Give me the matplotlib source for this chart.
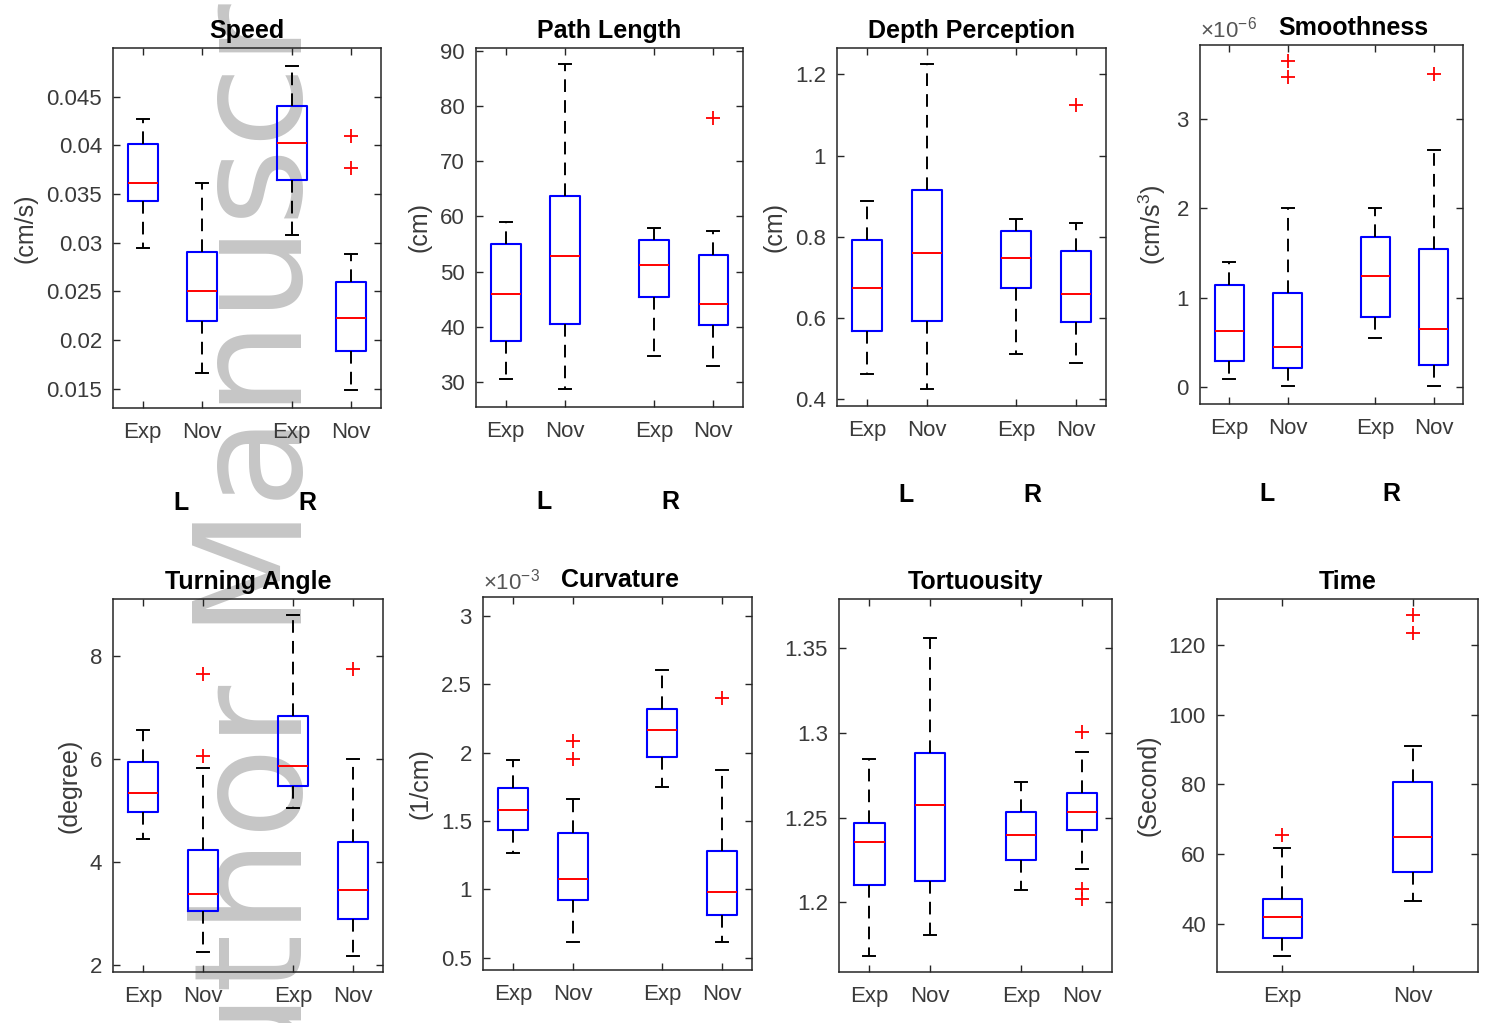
import matplotlib
matplotlib.use("Agg")
import matplotlib.pyplot as plt
import matplotlib.transforms as mtransforms
from matplotlib.ticker import FuncFormatter

plt.rcParams["font.family"] = ["Liberation Sans", "DejaVu Sans"]
plt.rcParams["mathtext.fontset"] = "custom"
plt.rcParams["mathtext.rm"] = "Liberation Sans"
plt.rcParams["mathtext.default"] = "regular"

W, H = 1487, 1023
AX_GREY = "#262626"
TICK_GREY = "#3a3a3a"

GROUPS4 = ["Exp", "Nov", "Exp", "Nov"]
GROUPS2 = ["Exp", "Nov"]
POS4 = [1, 2, 3.5, 4.5]
POS2 = [1, 2]

# each row: lower whisker, q1, median, q3, upper whisker  (order: L-Exp, L-Nov, R-Exp, R-Nov)
speed = [[0.0294, 0.0343, 0.0361, 0.0401, 0.0427],
         [0.0166, 0.0219, 0.0250, 0.0290, 0.0361],
         [0.0308, 0.0364, 0.0402, 0.0440, 0.0482],
         [0.0148, 0.0189, 0.0223, 0.0259, 0.0288]]
speed_fliers = [[], [], [], [0.0410, 0.0377]]

path_length = [[30.6, 37.4, 46.0, 55.0, 59.0],
               [28.7, 40.6, 52.9, 63.7, 87.6],
               [34.8, 45.5, 51.2, 55.8, 57.9],
               [32.9, 40.3, 44.1, 53.1, 57.4]]
path_fliers = [[], [], [], [77.9]]

depth = [[0.462, 0.567, 0.673, 0.793, 0.888],
         [0.426, 0.593, 0.760, 0.914, 1.226],
         [0.510, 0.674, 0.747, 0.814, 0.844],
         [0.488, 0.590, 0.660, 0.765, 0.835]]
depth_fliers = [[], [], [], [1.124]]

# x 1e-6
smoothness = [[0.093, 0.295, 0.631, 1.146, 1.40],
              [0.011, 0.213, 0.451, 1.049, 2.00],
              [0.549, 0.787, 1.246, 1.683, 2.00],
              [0.011, 0.250, 0.649, 1.549, 2.65]]
smooth_fliers = [[], [3.65, 3.47], [], [3.51]]

turning = [[4.44, 4.96, 5.34, 5.93, 6.55],
           [2.24, 3.04, 3.38, 4.23, 5.82],
           [5.04, 5.48, 5.86, 6.82, 8.78],
           [2.17, 2.89, 3.45, 4.38, 6.00]]
turning_fliers = [[], [7.64, 6.06], [], [7.75]]

# x 1e-3
curvature = [[1.267, 1.438, 1.580, 1.739, 1.944],
             [0.617, 0.920, 1.073, 1.412, 1.658],
             [1.749, 1.972, 2.167, 2.321, 2.607],
             [0.615, 0.813, 0.981, 1.282, 1.871]]
curv_fliers = [[], [2.088, 1.954], [], [2.399]]

tortuosity = [[1.1683, 1.2102, 1.2354, 1.2470, 1.2847],
              [1.1809, 1.2124, 1.2575, 1.2880, 1.3559],
              [1.2071, 1.2250, 1.2398, 1.2531, 1.2711],
              [1.2197, 1.2427, 1.2531, 1.2646, 1.2890]]
tort_fliers = [[], [], [], [1.3006, 1.2081, 1.2022]]

time_s = [[30.7, 35.9, 41.9, 47.1, 61.8],
          [46.6, 54.7, 65.0, 80.7, 90.9]]
time_fliers = [[65.5], [128.6, 123.5]]


def fmt(v, _):
    return f"{v:g}"


def draw_panel(fig, box_px, stats, fliers, labels, positions, width, title,
               ylabel, ylim, yticks, exp_text=None, title_x=0.5, lr_y=None):
    l, r, t, b = box_px
    ax = fig.add_axes([l / W, 1 - b / H, (r - l) / W, (b - t) / H])
    ax.set_facecolor("none")
    bstats = [dict(whislo=s[0], q1=s[1], med=s[2], q3=s[3], whishi=s[4], fliers=f)
              for s, f in zip(stats, fliers)]
    ax.bxp(bstats, positions=positions, widths=width, capwidths=0.4 * width,
           boxprops=dict(color="blue", lw=1.5),
           medianprops=dict(color="red", lw=1.4),
           whiskerprops=dict(color="black", lw=1.4, linestyle=(0, (6.5, 4.2))),
           capprops=dict(color="black", lw=1.4),
           flierprops=dict(marker="+", markeredgecolor="red", markersize=10,
                           markeredgewidth=1.3, linestyle="none"),
           manage_ticks=False, zorder=3)
    ax.set_xlim(positions[0] - 0.5, positions[-1] + 0.5)
    ax.set_ylim(*ylim)
    ax.set_xticks(positions, labels)
    ax.set_yticks(yticks)
    ax.yaxis.set_major_formatter(FuncFormatter(fmt))
    ax.tick_params(direction="in", length=5, width=1, top=True, right=True,
                   labelsize=16, labelcolor=TICK_GREY, color=AX_GREY)
    ax.tick_params(axis="x", pad=10)
    ax.tick_params(axis="y", pad=8)
    for sp in ax.spines.values():
        sp.set_color(AX_GREY)
        sp.set_linewidth(1.1)
    ax.set_title(title, fontsize=18, fontweight="bold", pad=7, x=title_x)
    if ylabel:
        ax.set_ylabel(ylabel, fontsize=18, color=TICK_GREY, labelpad=6)
    if exp_text:
        ax.text(0.0, 1.008, exp_text, transform=ax.transAxes, ha="left",
                va="bottom", fontsize=16, color="#555555")
    if lr_y is not None:
        trans = mtransforms.blended_transform_factory(ax.transData, ax.transAxes)
        ax.text(1.65, lr_y, "L", transform=trans, ha="center", va="center",
                fontsize=18, fontweight="bold")
        ax.text(3.77, lr_y, "R", transform=trans, ha="center", va="center",
                fontsize=18, fontweight="bold")
    return ax


fig = plt.figure(figsize=(W / 100, H / 100), dpi=100)

# watermark behind the (transparent) axes; starts below the bottom edge
fig.text(302 / W, 1 - 1190 / H, "Author Manuscript", rotation=90,
         rotation_mode="anchor", ha="left", va="baseline",
         fontsize=108, family="DejaVu Sans", color="#c6c6c6", zorder=-1)

draw_panel(fig, (113, 381, 48, 408), speed, speed_fliers, GROUPS4, POS4, 0.5,
           "Speed", "(cm/s)", (0.013, 0.050),
           [0.015, 0.02, 0.025, 0.03, 0.035, 0.04, 0.045], lr_y=-0.264)
draw_panel(fig, (476, 743, 48, 407), path_length, path_fliers, GROUPS4, POS4, 0.5,
           "Path Length", "(cm)", (25.5, 90.5),
           [30, 40, 50, 60, 70, 80, 90], lr_y=-0.265)
draw_panel(fig, (837, 1106, 48, 406), depth, depth_fliers, GROUPS4, POS4, 0.5,
           "Depth Perception", "(cm)", (0.383, 1.265),
           [0.4, 0.6, 0.8, 1.0, 1.2], lr_y=-0.25)
draw_panel(fig, (1200, 1463, 45, 404), smoothness, smooth_fliers, GROUPS4, POS4, 0.5,
           "Smoothness", "(cm/s$^3$)", (-0.19, 3.83),
           [0, 1, 2, 3], exp_text="×10$^{-6}$", title_x=0.585, lr_y=-0.25)

draw_panel(fig, (113, 383, 599, 972), turning, turning_fliers, GROUPS4, POS4, 0.5,
           "Turning Angle", "(degree)", (1.86, 9.1), [2, 4, 6, 8])
draw_panel(fig, (483, 752, 597, 970), curvature, curv_fliers, GROUPS4, POS4, 0.5,
           "Curvature", "(1/cm)", (0.41, 3.14),
           [0.5, 1.0, 1.5, 2.0, 2.5, 3.0], exp_text="×10$^{-3}$", title_x=0.51)
draw_panel(fig, (839, 1112, 599, 972), tortuosity, tort_fliers, GROUPS4, POS4, 0.5,
           "Tortuousity", None, (1.159, 1.379), [1.2, 1.25, 1.3, 1.35])
draw_panel(fig, (1217, 1478, 599, 972), time_s, time_fliers, GROUPS2, POS2, 0.3,
           "Time", "(Second)", (26.1, 133.2), [40, 60, 80, 100, 120])

fig.savefig("out.png", dpi=100)
